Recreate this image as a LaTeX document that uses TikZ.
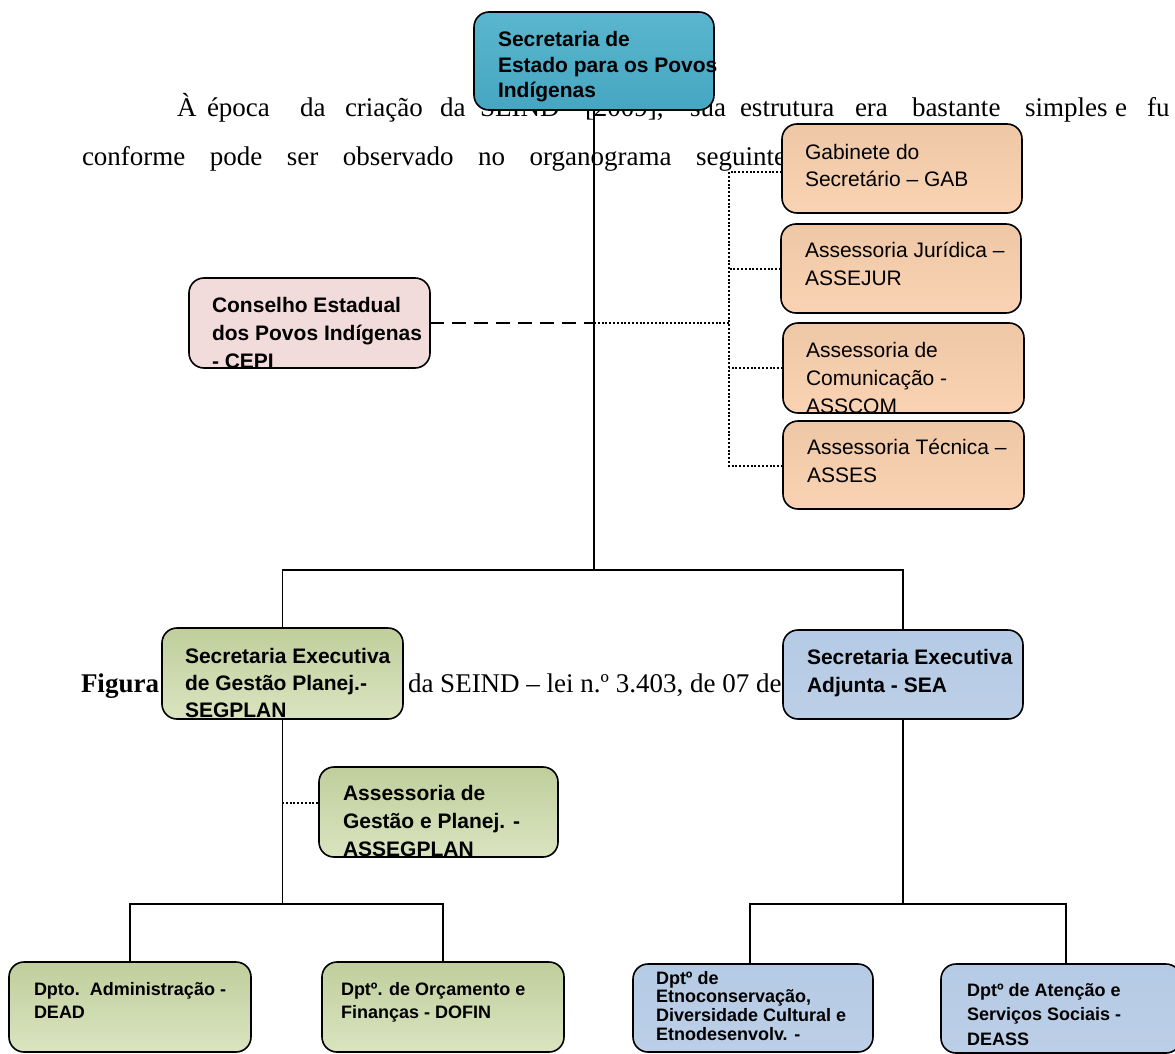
\documentclass[tikz,border=0pt]{standalone}
\usepackage{fontspec}
\setmainfont{Liberation Serif}
\newfontfamily\boxfont{Liberation Sans}
\definecolor{tealA}{RGB}{90,182,206}
\definecolor{tealB}{RGB}{70,166,193}
\definecolor{oraA}{RGB}{238,199,166}
\definecolor{oraB}{RGB}{249,211,179}
\definecolor{pinkF}{RGB}{242,220,219}
\definecolor{grnA}{RGB}{192,206,156}
\definecolor{grnB}{RGB}{218,228,192}
\definecolor{bluA}{RGB}{181,202,228}
\definecolor{bluB}{RGB}{188,207,231}
\newcommand\bxB[2]{\boxfont\bfseries\fontsize{#1}{#2}\selectfont}
\newcommand\bxR[2]{\boxfont\fontsize{#1}{#2}\selectfont}
\newcommand\boxlines[2]{\parbox[t]{330pt}{#1\raggedright #2}}
\tikzset{
  obox/.style={rectangle, rounded corners=15pt, draw=black, line width=1.6pt,
    inner sep=0pt, outer sep=0pt},
  teal/.style={top color=tealA, bottom color=tealB},
  orange/.style={top color=oraA, bottom color=oraB},
  pink/.style={fill=pinkF},
  green/.style={top color=grnA, bottom color=grnB},
  blue/.style={top color=bluA, bottom color=bluB},
  btext/.style={anchor=base west, inner sep=0pt, outer sep=0pt},
  body/.style={anchor=base west, inner sep=0pt, outer sep=0pt, font=\fontsize{27}{30}\selectfont},
  conn/.style={draw=black, line width=1.5pt},
  dotln/.style={draw=black, line width=2pt, dash pattern=on 2pt off 1.8pt},
  dashln/.style={draw=black, line width=2pt, dash pattern=on 14pt off 8pt},
}
% name, center, style, x offset, first baseline offset, content
\newcommand\orgbox[6]{%
  \node[obox,#3] (#1) at (#2) {};
  \begin{scope}
    \clip ([xshift=-60pt]#1.south west) rectangle ([xshift=60pt,yshift=20pt]#1.north east);
    \node[btext] (#1-t) at ([xshift=#4pt,yshift=-#5pt]#1.north west) {#6};
  \end{scope}}
\begin{document}
\begin{tikzpicture}[x=1pt,y=-1pt]
\useasboundingbox (0,0) rectangle (1175,1054);

% background document text
\node[body] (w1) at (177,117) {À};
\node[body] (w2) at (207,117) {época};
\node[body] (w3) at (300,117) {da};
\node[body] (w4) at (345,117) {criação};
\node[body] (w5) at (440,117) {da};
\node[body] (w6) at (480,117) {SEIND};
\node[body] (w7) at (585,117) {[2009],};
\node[body] (w8) at (690,117) {sua};
\node[body] (w9) at (740,117) {estrutura};
\node[body] (w10) at (855,117) {era};
\node[body] (w11) at (912,117) {bastante};
\node[body] (w12) at (1025,117) {simples};
\node[body] (w13) at (1115,117) {e};
\node[body] (w14) at (1147,117) {fu};
\node[body] (l2) at (82,165) {\makebox[704pt][s]{conforme pode ser observado no organograma seguinte}};
\node[body] (c1) at (81,692) {\bfseries Figura};
\node[body] (c2) at (408,692) {da SEIND – lei n.º 3.403, de 07 de};

% connector points
\coordinate (j0) at (594,570);
\coordinate (j1) at (282,904);
\coordinate (d3) at (750,904);
\coordinate (d4) at (1066,904);
\coordinate (b1) at (729,172);
\coordinate (b2) at (729,466);
\coordinate (a1) at (282,803);

% boxes
\orgbox{top}{594,61}{teal,minimum width=240pt,minimum height=98pt}{24}{35}{\boxlines{\bxB{21}{25.5}}{Secretaria de\\Estado para os Povos\\Indígenas}}
\orgbox{gab}{902,168.5}{orange,minimum width=240pt,minimum height=89pt}{23}{35}{\boxlines{\bxR{21}{28}}{Gabinete do\\Secretário – GAB}}
\orgbox{jur}{901,268.5}{orange,minimum width=240pt,minimum height=89pt}{24}{33}{\boxlines{\bxR{21}{28}}{Assessoria Jurídica –\\ASSEJUR}}
\orgbox{com}{903.5,368}{orange,minimum width=241pt,minimum height=90pt}{23}{34}{\boxlines{\bxR{21}{28}}{Assessoria de\\Comunicação -\\ASSCOM}}
\orgbox{tec}{903.5,465}{orange,minimum width=241pt,minimum height=88pt}{24}{33}{\boxlines{\bxR{21}{28}}{Assessoria Técnica –\\ASSES}}
\orgbox{cepi}{309.5,323}{pink,minimum width=241pt,minimum height=90pt}{23}{34}{\boxlines{\bxB{21}{28}}{Conselho Estadual\\dos Povos Indígenas\\- CEPI}}
\orgbox{segp}{282.5,673.5}{green,minimum width=241pt,minimum height=91pt}{23}{35}{\boxlines{\bxB{21}{27}}{Secretaria Executiva\\de Gestão Planej.-\\SEGPLAN}}
\orgbox{sea}{903,674.5}{blue,minimum width=240pt,minimum height=89pt}{24}{34}{\boxlines{\bxB{21}{28}}{Secretaria Executiva\\Adjunta - SEA}}
\orgbox{asseg}{438.5,812}{green,minimum width=239pt,minimum height=90pt}{24}{33}{\boxlines{\bxB{21}{28}}{Assessoria de\\Gestão e Planej. -\\ASSEGPLAN}}
\orgbox{dead}{130,1007}{green,minimum width=242pt,minimum height=90pt}{25}{33}{\boxlines{\bxB{18}{23}}{Dpto.~~Administração -\\DEAD}}
\orgbox{dofin}{443,1007}{green,minimum width=242pt,minimum height=90pt}{19}{33}{\boxlines{\bxB{18}{23}}{Dptº. de Orçamento e\\Finanças - DOFIN}}
\orgbox{etno}{753,1008}{blue,minimum width=240pt,minimum height=88pt}{23}{20}{\boxlines{\bxB{18}{18.7}}{Dptº de\\Etnoconservação,\\Diversidade Cultural e\\Etnodesenvolv. -}}
\orgbox{deass}{1061,1008.5}{blue,minimum width=240pt,minimum height=89pt}{26}{32}{\boxlines{\bxB{18}{24.5}}{Dptº de Atenção e\\Serviços Sociais -\\DEASS}}

% connectors
\draw[conn] (top.south) -- (j0);
\draw[conn] (segp.north) -- (segp.north |- j0) -- (sea.north |- j0) -- (sea.north);
\draw[conn] (segp.south) -- (segp.south |- j1);
\draw[conn] (dead.north) -- (dead.north |- j1) -- (dofin.north |- j1) -- (dofin.north);
\draw[conn] (sea.south) -- (sea.south |- j1);
\draw[conn] (etno.north -| d3) -- (d3) -- (d4) -- (deass.north -| d4);
\draw[dotln] (gab.west |- b1) -- (b1) -- (b2) -- (tec.west |- b2);
\draw[dotln] (jur.west) -- (jur.west -| b1);
\draw[dotln] (com.west) -- (com.west -| b1);
\draw[dashln] (cepi.east) -- (cepi.east -| j0);
\draw[dotln] (cepi.east -| j0) -- (cepi.east -| b1);
\draw[dotln] (a1) -- (asseg.west |- a1);
\end{tikzpicture}
\end{document}
